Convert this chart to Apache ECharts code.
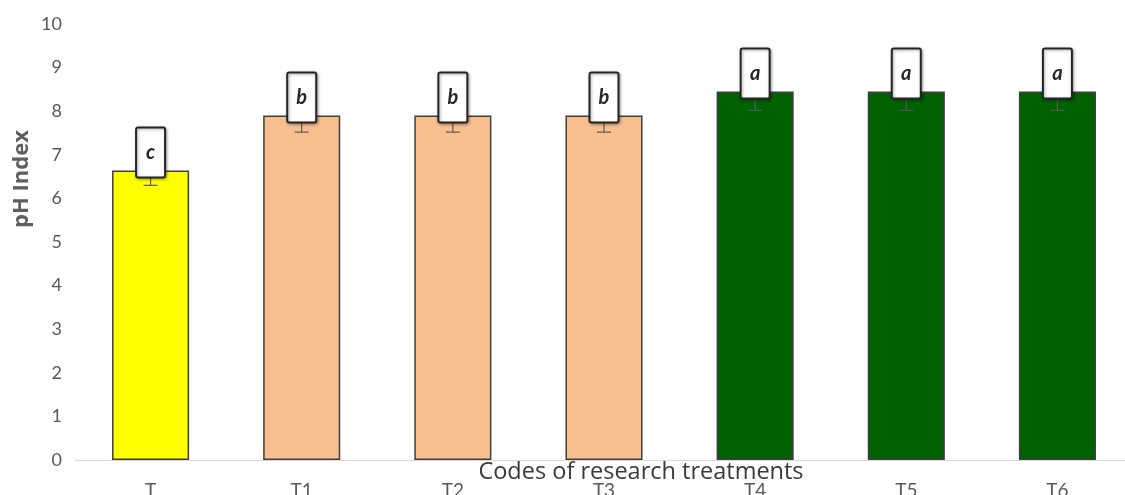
<!DOCTYPE html>
<html>
<head>
<meta charset="utf-8">
<script src="https://cdn.jsdelivr.net/npm/echarts@6/dist/echarts.min.js"></script>
<style>html,body{margin:0;padding:0;background:#fff;}#c{width:1125px;height:495px;}</style>
</head>
<body>
<div id="c"></div>
<script>
const categories = ['T', 'T1', 'T2', 'T3', 'T4', 'T5', 'T6'];
const phValues = [6.64, 7.9, 7.9, 7.9, 8.45, 8.45, 8.45];
const phErrors = [0.34, 0.38, 0.38, 0.38, 0.43, 0.43, 0.43];
const letters = ['c', 'b', 'b', 'b', 'a', 'a', 'a'];
const yTicks = [0, 10, 1];

const barColors = ['#FFFF00', '#F7BE8E', '#F7BE8E', '#F7BE8E', '#006100', '#006100', '#006100'];
const FONT = 'Lato, "Open Sans", sans-serif';
const WIDE = '"Open Sans", Lato, sans-serif';

const chart = echarts.init(document.getElementById('c'));
chart.setOption({
  animation: false,
  backgroundColor: '#fff',
  grid: { left: 75, top: 24, width: 1058, height: 436, containLabel: false, outerBoundsMode: 'none' },
  xAxis: {
    type: 'category',
    data: categories,
    name: 'Codes of research treatments',
    nameLocation: 'middle',
    nameGap: 0,
    nameMoveOverlap: false,
    nameTextStyle: { color: '#3a3a3a', fontSize: 23.5, fontFamily: WIDE, verticalAlign: 'top', padding: [0, 0, 0, 74] },
    axisLine: { lineStyle: { color: '#d9d9d9', width: 1 } },
    axisTick: { show: false },
    axisLabel: { color: '#595959', fontSize: 19, fontFamily: FONT, margin: 21 },
    z: 1
  },
  yAxis: {
    type: 'value',
    min: yTicks[0], max: yTicks[1], interval: yTicks[2],
    axisLine: { show: false },
    axisTick: { show: false },
    splitLine: { show: false },
    axisLabel: { color: '#595959', fontSize: 18, fontFamily: FONT, margin: 13 }
  },
  graphic: [{
    type: 'text',
    x: 22, y: 179,
    rotation: Math.PI / 2,
    style: { text: 'pH Index', fill: '#5f5f5f', fontSize: 22, fontWeight: 'bold', fontFamily: WIDE, align: 'center', verticalAlign: 'middle' }
  }],
  series: [
    {
      type: 'bar',
      data: phValues.map((v, i) => ({ value: v, itemStyle: { color: barColors[i] } })),
      barWidth: '51%',
      itemStyle: { borderColor: '#3f3f3f', borderWidth: 1.5 },
      z: 2
    },
    {
      type: 'custom',
      z: 3,
      data: phValues.map((v, i) => [i, v, phErrors[i]]),
      renderItem: function (params, api) {
        const i = api.value(0), v = api.value(1), e = api.value(2);
        const lo = api.coord([i, v - e]);
        const hi = api.coord([i, v + e]);
        const w = 7;
        return {
          type: 'group',
          children: [
            { type: 'line', shape: { x1: lo[0], y1: lo[1], x2: hi[0], y2: hi[1] }, style: { stroke: '#595959', lineWidth: 1.2 } },
            { type: 'line', shape: { x1: lo[0] - w, y1: lo[1], x2: lo[0] + w, y2: lo[1] }, style: { stroke: '#595959', lineWidth: 1.2 } },
            { type: 'line', shape: { x1: hi[0] - w, y1: hi[1], x2: hi[0] + w, y2: hi[1] }, style: { stroke: '#595959', lineWidth: 1.2 } }
          ]
        };
      }
    },
    {
      type: 'custom',
      z: 4,
      data: phValues.map((v, i) => [i, v, letters[i]]),
      renderItem: function (params, api) {
        const i = api.value(0), v = api.value(1);
        const p = api.coord([i, v]);
        const bw = 29, bh = 50;
        const bx = p[0] - bw / 2, by = p[1] + 7 - bh;
        return {
          type: 'group',
          children: [
            { type: 'rect', shape: { x: bx, y: by, width: bw, height: bh, r: 2 },
              style: { fill: '#ffffff', stroke: '#262626', lineWidth: 2, shadowBlur: 3, shadowColor: 'rgba(0,0,0,0.35)', shadowOffsetX: 1, shadowOffsetY: 1 } },
            { type: 'text', style: { text: letters[params.dataIndex], x: p[0], y: by + bh / 2,
              align: 'center', verticalAlign: 'middle', fill: '#262626', fontSize: 20, fontStyle: 'italic', fontWeight: 'bold', fontFamily: FONT } }
          ]
        };
      }
    }
  ]
});
</script>
</body>
</html>
